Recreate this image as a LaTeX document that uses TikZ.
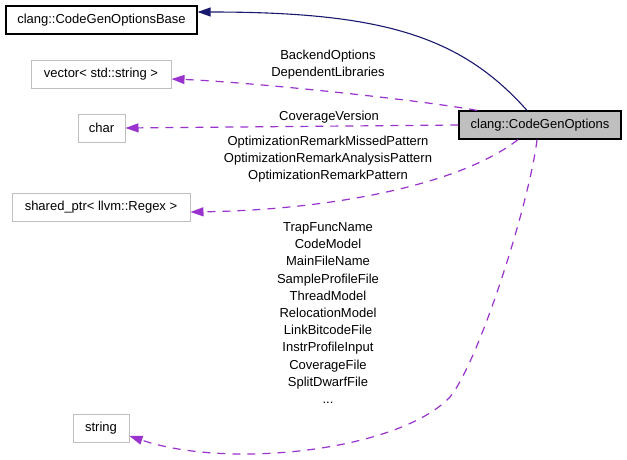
\documentclass[tikz,border=0pt]{standalone}
\usepackage{fontspec}
\setmainfont{Liberation Sans}
\usetikzlibrary{arrows.meta}
\definecolor{edgepurple}{HTML}{9A32CD}
\definecolor{edgenavy}{HTML}{191970}
\definecolor{boxgray}{HTML}{BFBFBF}
\tikzset{
  lbl/.style={font=\fontsize{13}{17.2}\selectfont, inner sep=0pt, align=center},
  classbox/.style={draw=boxgray, line width=1pt, fill=white, minimum height=28pt, inner sep=0pt,
    font=\fontsize{13}{15}\selectfont},
  basebox/.style={classbox, draw=black, line width=1.2pt},
  mainbox/.style={classbox, draw=black, line width=1.2pt, fill=boxgray},
  useedge/.style={draw=edgepurple, line width=1.2pt, dash pattern=on 8pt off 7pt,
    -{Triangle[length=13pt,width=9pt]}},
  inhedge/.style={draw=edgenavy, line width=1.1pt, -{Triangle[length=13pt,width=9pt]}},
}
\begin{document}
\begin{tikzpicture}[x=1pt,y=-1pt]
\useasboundingbox (0,0) rectangle (627,460);
% nodes
\node[basebox, minimum width=191pt] (base) at (101.5,20) {clang::CodeGenOptionsBase};
\node[classbox, minimum width=140pt] (vec) at (101,74.5) {vector< std::string >};
\node[classbox, minimum width=47pt] (chr) at (101.5,128) {char};
\node[classbox, minimum width=178pt] (sptr) at (101,207.5) {shared\_ptr< llvm::Regex >};
\node[classbox, minimum width=56pt] (str) at (101,428.5) {string};
\node[mainbox, minimum width=162pt] (main) at (540,125) {clang::CodeGenOptions};
% labels
\node[lbl] (l1) at (328,65) {BackendOptions\\DependentLibraries};
\node[lbl] (l2) at (329,117) {CoverageVersion};
\node[lbl] (l3) at (328,159) {OptimizationRemarkMissedPattern\\OptimizationRemarkAnalysisPattern\\OptimizationRemarkPattern};
\node[lbl] (l4) at (328,313) {TrapFuncName\\CodeModel\\MainFileName\\SampleProfileFile\\ThreadModel\\RelocationModel\\LinkBitcodeFile\\InstrProfileInput\\CoverageFile\\SplitDwarfFile\\...};
% edges
\draw[inhedge] ([xshift=-13pt]main.north) .. controls (460,35) and (380,12) .. ([yshift=8pt]base.east);
\draw[useedge] ([xshift=-63pt]main.north) .. controls (420,100) and (250,82) .. ([yshift=-4.5pt]vec.east);
\draw[useedge] (main.west) -- (chr.east);
\draw[useedge] ([xshift=-22pt]main.south) .. controls (460,185) and (330,210) .. ([yshift=-4.5pt]sptr.east);
\draw[useedge] ([xshift=-3pt]main.south) .. controls (530,200) and (480,360) .. (450,397)
  .. controls (400,450) and (230,470) .. ([yshift=-7.5pt]str.east);
\end{tikzpicture}
\end{document}
